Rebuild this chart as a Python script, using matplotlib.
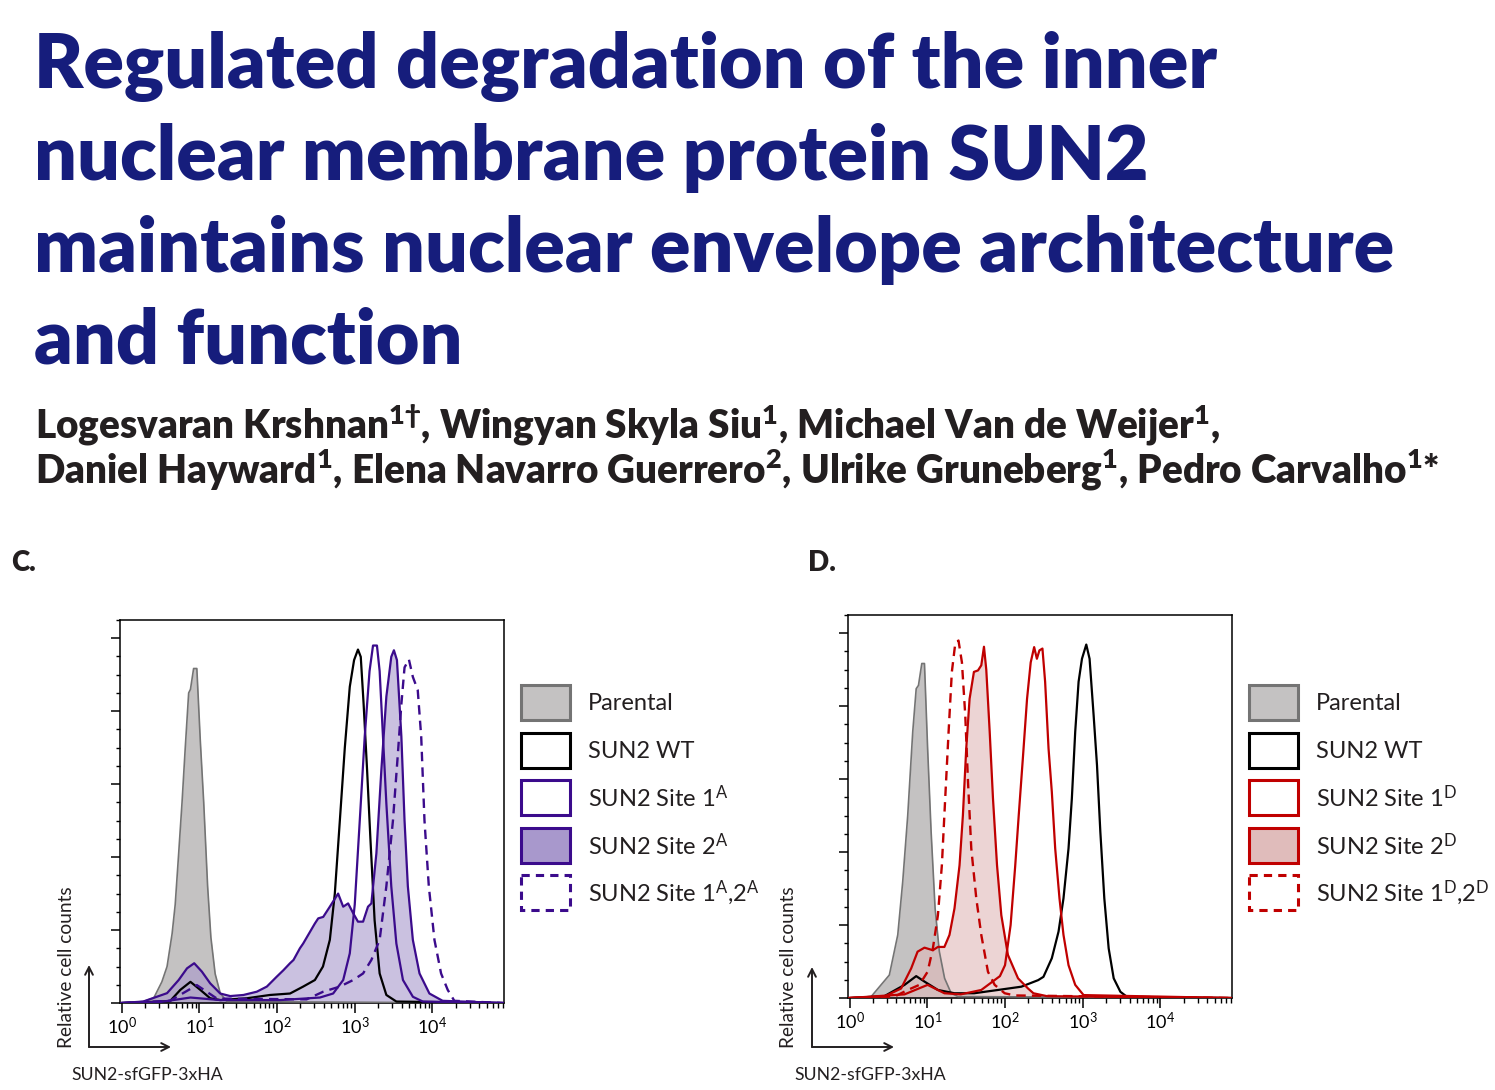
import matplotlib
matplotlib.use('Agg')
import matplotlib.pyplot as plt
from matplotlib.patches import Rectangle
from matplotlib.ticker import LogLocator, MultipleLocator, NullFormatter

W, H = 1495, 1090

plt.rcParams['font.family'] = ['Lato', 'DejaVu Sans']
plt.rcParams['mathtext.fontset'] = 'custom'
plt.rcParams['mathtext.rm'] = 'Lato'
plt.rcParams['mathtext.bf'] = 'Lato:heavy'
plt.rcParams['mathtext.it'] = 'Lato:italic'

TITLE = ['Regulated degradation of the inner',
         'nuclear membrane protein SUN2',
         'maintains nuclear envelope architecture',
         'and function']
AUTHORS = ['Logesvaran Krshnan$\\mathbf{^{1\u2020}}$, Wingyan Skyla Siu$\\mathbf{^{1}}$, '
           'Michael Van de Weijer$\\mathbf{^{1}}$,',
           'Daniel Hayward$\\mathbf{^{1}}$, Elena Navarro Guerrero$\\mathbf{^{2}}$, '
           'Ulrike Gruneberg$\\mathbf{^{1}}$, Pedro Carvalho$\\mathbf{^{1}}$*']

DECADES = [1, 10, 100, 1000, 10000]
DECADE_LABELS = [r'$\mathregular{10^{0}}$', r'$\mathregular{10^{1}}$', r'$\mathregular{10^{2}}$',
                 r'$\mathregular{10^{3}}$', r'$\mathregular{10^{4}}$']

# ---- panel C: histograms (fluorescence, relative counts) ----
C_PAR_X = [1, 1.9, 2.6, 3.3, 3.85, 4.47, 4.9, 5.43, 6.0, 6.6, 7.3, 7.7, 8.45, 9.3, 10.3, 11.4,
           12.8, 14.1, 16.0, 18.6, 22.6, 8e4]
C_PAR_Y = [0, 0.4, 1.4, 5.8, 10, 19, 27, 41, 55, 70, 85, 86, 91.7, 91.7, 72, 55,
           32, 18, 8, 2.7, 0.4, 0]

C_WT_X = [1, 4.2, 5.7, 7.7, 10.3, 13.8, 18.6, 41, 81, 147, 217, 307, 390, 478, 554, 643, 745,
          863, 980, 1100, 1195, 1300, 1440, 1585, 1800, 2090, 2550, 3430, 8e4]
C_WT_Y = [0, 0.5, 3.6, 5.8, 3.6, 1.3, 0.8, 1.3, 2.2, 2.6, 4.5, 6.3, 10, 17.3, 30, 50, 70,
          86.7, 94, 96.9, 94.9, 82, 64, 45.6, 22.7, 8.1, 2.2, 0.4, 0]

C_S1_X = [1, 3.2, 7.7, 18.6, 110, 356, 527, 710, 863, 1000, 1160, 1343, 1550, 1718, 1930,
          2090, 2307, 2550, 2950, 3430, 4170, 5600, 7500, 8e4]
C_S1_Y = [0, 0.3, 1.5, 0.8, 0.8, 1.5, 2.6, 6.3, 13.6, 27, 50, 73, 91, 98, 98,
          91, 73, 54.7, 32, 16.3, 6.3, 1.7, 0.4, 0]

C_S2_X = [1, 1.9, 3.85, 5.43, 6.95, 8.6, 10.8, 13.8, 18.6, 25, 37, 55, 74, 99, 121, 147, 163,
          197, 217, 307, 339, 393, 478, 611, 710, 822, 955, 1100, 1280, 1480, 1636, 1897,
          2198, 2550, 2950, 3190, 3490, 3980, 4370, 4820, 5590, 6810, 9130, 13500, 8e4]
C_S2_Y = [0, 0.4, 2.7, 6.3, 9.5, 10.9, 8.6, 5.4, 2.6, 1.9, 2.2, 3.1, 4.5, 7.2, 9, 10.9, 11.8,
          15, 16.3, 21.8, 23.2, 23.6, 26.4, 30, 26.4, 27.3, 24.6, 22.3, 22.3, 26.4, 27.3, 41,
          63.8, 84, 94.9, 96.7, 94, 73, 50, 32, 17.3, 8.1, 2.6, 0.6, 0]

C_S12_X = [1, 4.2, 9.3, 16.9, 240, 393, 643, 955, 1280, 1636, 2090, 2550, 3100, 3590, 3980,
           4370, 4970, 5590, 6460, 7160, 7890, 8970, 10600, 12900, 15700, 19100, 8e4]
C_S12_Y = [0, 0.6, 4.9, 1.2, 1, 3.1, 4.5, 6.3, 8.1, 11.8, 17.3, 32, 50, 68.4, 82,
           92, 94.2, 89.4, 85.8, 73, 50, 32, 17.3, 8.1, 3.6, 0.6, 0]

# ---- panel D ----
D_PAR_X = [1, 1.9, 3.25, 4.17, 4.83, 5.6, 6.5, 7.2, 7.7, 8.5, 9.2, 10.1, 11.2, 12.6, 14.3,
           16.7, 20.3, 24.8, 8e4]
D_PAR_Y = [0, 0.4, 6.3, 17.3, 31.9, 50, 73, 84.8, 85.7, 91.7, 91.7, 68.4, 45.6, 24.6, 12.7,
           5.4, 1.3, 0.4, 0]

D_WT_X = [1, 2.8, 5.1, 7.2, 9.2, 13.7, 22.4, 40, 81, 162, 267, 312, 400, 488, 565, 656, 724,
          800, 884, 977, 1110, 1224, 1380, 1525, 1683, 1894, 2155, 2500, 3050, 3720, 8e4]
D_WT_Y = [0, 0.5, 3.6, 6, 4.5, 2.2, 1.3, 1.3, 2.2, 3.1, 4.9, 5.8, 10.9, 18.2, 27.3, 41, 54.7,
          73, 86.7, 93, 96.9, 93, 77.5, 63.8, 45.6, 27.3, 13.6, 5.4, 1.7, 0.3, 0]

D_S1_X = [1, 5.1, 10.1, 16.6, 27, 49.5, 86, 100, 118, 135, 150, 170, 192, 214, 237, 257, 277,
          303, 328, 363, 400, 442, 502, 565, 656, 800, 1024, 8e4]
D_S1_Y = [0, 1, 3.6, 1.3, 1, 2.2, 6, 9, 20, 36, 50, 66, 82, 92, 96.2, 93, 95.3,
          95.8, 86.7, 68.4, 56.5, 41, 27.3, 17.3, 9, 3.6, 0.8, 0]

D_S2_X = [1, 2.8, 4.6, 6.2, 7.5, 9.2, 11.8, 13.7, 16.6, 19.3, 22.4, 26, 28.7, 31.7, 35, 39.8,
          44.9, 49.5, 53.6, 57.4, 63.5, 70, 78.9, 89.6, 109, 147, 198, 232, 347, 8e4]
D_S2_Y = [0, 0.4, 2.6, 8.1, 12.7, 13.8, 13.1, 14, 14, 17.3, 24.6, 36.4, 50, 68.4, 82, 89.4,
          89.8, 91.2, 96.3, 90, 73, 54.7, 36.4, 22.7, 11.8, 5.4, 2.6, 1.3, 0.5, 0]

D_S12_X = [1, 3.8, 5.6, 7.9, 10.1, 11.8, 13.7, 15.4, 17, 18.8, 20.7, 22.9, 25.2, 27.9, 30.8,
           33.4, 36.8, 42.7, 49.5, 60.3, 73.6, 99, 133, 8e4]
D_S12_Y = [0, 0.4, 2.2, 3.6, 7.2, 13.6, 22.7, 36.4, 54.7, 73, 89.4, 97.2, 98, 92, 77.5,
           59.3, 41, 27.3, 17.3, 7.2, 3.6, 1.3, 0.7, 0]

GREY_FILL, GREY_EDGE = '#c4c2c2', '#747474'
PURPLE, PURPLE_FILL = '#3b0b8c', '#a898cc'
RED, RED_FILL = '#c00000', '#e0b8b8'
NAVY = '#161d7c'
INK = '#231f20'

C_LABELS = ['Parental', 'SUN2 WT', r'SUN2 Site 1$\mathregular{^{A}}$',
            r'SUN2 Site 2$\mathregular{^{A}}$',
            r'SUN2 Site 1$\mathregular{^{A}}$,2$\mathregular{^{A}}$']
D_LABELS = ['Parental', 'SUN2 WT', r'SUN2 Site 1$\mathregular{^{D}}$',
            r'SUN2 Site 2$\mathregular{^{D}}$',
            r'SUN2 Site 1$\mathregular{^{D}}$,2$\mathregular{^{D}}$']

DASH = (0, (4, 2.6))


def draw_hist(ax, par, wt, s1, s2, s12, col, fill):
    ax.fill_between(par[0], par[1], color=GREY_FILL, lw=0, zorder=1)
    ax.fill_between(s2[0], s2[1], color=fill, alpha=0.6, lw=0, zorder=1.2)
    ax.plot(par[0], par[1], color=GREY_EDGE, lw=1.2, zorder=3)
    ax.plot(wt[0], wt[1], color='black', lw=1.6, zorder=3)
    ax.plot(s2[0], s2[1], color=col, lw=1.6, zorder=3)
    ax.plot(s1[0], s1[1], color=col, lw=1.6, zorder=3)
    ax.plot(s12[0], s12[1], color=col, lw=1.7, ls=DASH, zorder=3)

    ax.set_xscale('log')
    ax.set_xlim(10 ** -0.02, 10 ** 4.92)
    ax.set_ylim(0, 105)
    ax.set_xticks(DECADES)
    ax.set_xticklabels(DECADE_LABELS)
    ax.xaxis.set_minor_locator(LogLocator(base=10, subs=range(2, 10), numticks=20))
    ax.xaxis.set_minor_formatter(NullFormatter())
    ax.yaxis.set_major_locator(MultipleLocator(20))
    ax.yaxis.set_minor_locator(MultipleLocator(5))
    ax.tick_params(axis='x', which='major', direction='out', length=7, width=1.1,
                   pad=2.5, labelsize=13, colors='black')
    ax.tick_params(axis='x', which='minor', direction='out', length=3.6, width=1.0)
    ax.tick_params(axis='y', which='major', direction='out', length=6.5, width=1.1,
                   labelleft=False)
    ax.tick_params(axis='y', which='minor', direction='out', length=3, width=1.0)
    for sp in ax.spines.values():
        sp.set_linewidth(1.1)


fig = plt.figure(figsize=(W / 100, H / 100), dpi=100)

axC = fig.add_axes([120 / W, 1 - 1003 / H, 384 / W, 383 / H])
draw_hist(axC, (C_PAR_X, C_PAR_Y), (C_WT_X, C_WT_Y), (C_S1_X, C_S1_Y),
          (C_S2_X, C_S2_Y), (C_S12_X, C_S12_Y), PURPLE, PURPLE_FILL)

axD = fig.add_axes([848 / W, 1 - 998 / H, 384 / W, 383 / H])
draw_hist(axD, (D_PAR_X, D_PAR_Y), (D_WT_X, D_WT_Y), (D_S1_X, D_S1_Y),
          (D_S2_X, D_S2_Y), (D_S12_X, D_S12_Y), RED, RED_FILL)

# overlay in pixel coordinates for text, arrows and legends
ov = fig.add_axes([0, 0, 1, 1])
ov.set_xlim(0, W)
ov.set_ylim(H, 0)
ov.axis('off')
ov.patch.set_alpha(0)

renderer = fig.canvas.get_renderer()


def fit_width(texts, ref, target):
    # scale a block of lines so that one reference line spans the target width
    w = ref.get_window_extent(renderer).width
    for t in texts:
        t.set_fontsize(t.get_fontsize() * target / w)


title = [ov.text(34, 88 + 92 * i, line, fontsize=51, fontweight='heavy', color=NAVY,
                 va='baseline') for i, line in enumerate(TITLE)]
fit_width(title, title[2], 1362)

authors = [ov.text(35, 438 + 45 * i, line, fontsize=25, fontweight='heavy', color=INK,
                   va='baseline') for i, line in enumerate(AUTHORS)]
fit_width(authors, authors[1], 1407)

ov.text(11, 571, 'C.', fontsize=20, fontweight='heavy', color=INK, va='baseline')
ov.text(808, 571, 'D.', fontsize=20, fontweight='heavy', color=INK, va='baseline')


def axis_arrows(x0, y0, xtip, ytip):
    ap = dict(arrowstyle='->,head_length=0.55,head_width=0.28', lw=1.4, color=INK,
              shrinkA=0, shrinkB=0)
    ov.annotate('', xy=(x0, ytip), xytext=(x0, y0), arrowprops=ap)
    ov.annotate('', xy=(xtip, y0), xytext=(x0, y0), arrowprops=ap)


axis_arrows(89, 1047, 171, 965)
ov.text(66, 1048, 'Relative cell counts', fontsize=13.8, rotation=90, color=INK,
        ha='center', va='bottom')
ov.text(71, 1080, 'SUN2-sfGFP-3xHA', fontsize=12.7, color=INK, va='baseline')

axis_arrows(812, 1047, 894, 967)
ov.text(789, 1048, 'Relative cell counts', fontsize=13.8, rotation=90, color=INK,
        ha='center', va='bottom')
ov.text(794, 1080, 'SUN2-sfGFP-3xHA', fontsize=12.7, color=INK, va='baseline')


def legend(x0, labels, col, fill):
    faces = [GREY_FILL, 'white', 'white', fill, 'white']
    edges = [GREY_EDGE, 'black', col, col, col]
    styles = ['-', '-', '-', '-', (0, (2.7, 2))]
    tops = [685, 733, 780, 828, 875]
    for lab, fc, ec, ls, top in zip(labels, faces, edges, styles, tops):
        ov.add_patch(Rectangle((x0, top), 49, 35, facecolor=fc, edgecolor=ec, lw=2.2, ls=ls))
        ov.text(x0 + 67, top + 18, lab, fontsize=17, color=INK, va='center')


legend(521, C_LABELS, PURPLE, '#a898cc')
legend(1249, D_LABELS, RED, '#e0bcbb')

fig.savefig('out.png', dpi=100)
